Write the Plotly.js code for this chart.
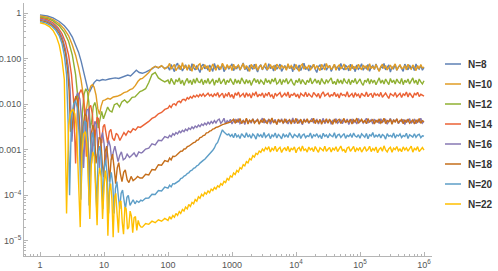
<!DOCTYPE html>
<html><head><meta charset="utf-8">
<script src="https://cdn.plot.ly/plotly-3.0.1.min.js"></script>
<style>html,body{margin:0;padding:0;background:#fff}#chart{width:498px;height:271px}</style>
</head><body><div id="chart"></div>
<script>
// Legend names and colours
var names = ["N=8","N=10","N=12","N=14","N=16","N=18","N=20","N=22"];
var colors = ["#5E81B5","#E19C24","#8FB032","#EB6235","#8778B3","#C56E1A","#5D9EC7","#FFBF00"];

// Shared late-time grid (x values)
var lateX = [39.8,44.7,50.1,56.2,63.1,70.8,79.4,89.1,
100,106,112,119,126,133,141,150,158,168,178,188,200,211,224,237,251,266,282,299,316,335,355,376,398,422,447,473,501,531,562,596,631,668,708,750,794,841,891,944,
1000,1059,1122,1189,1259,1334,1413,1496,1585,1679,1778,1884,1995,2113,2239,2371,2512,2661,2818,2985,3162,3350,3548,3758,3981,4217,4467,4732,5012,5309,5623,5957,6310,6683,7079,7499,7943,8414,8913,9441,
10000,10593,11220,11885,12589,13335,14125,14962,15849,16788,17783,18836,19953,21135,22387,23714,25119,26607,28184,29854,31623,33497,35481,37584,39811,42170,44668,47315,50119,53088,56234,59566,63096,66834,70795,74989,79433,84140,89125,94406,
100000,105925,112202,118850,125893,133352,141254,149624,158489,167880,177828,188365,199526,211349,223872,237137,251189,266073,281838,298538,316228,334965,354813,375837,398107,421697,446684,473151,501187,530884,562341,595662,630957,668344,707946,749894,794328,841395,891251,944061,
1000000];

// N=8
var x8 = [1,1.3,1.6,2,2.4,2.8,3.2,3.6,4,4.4,4.8,5.2,5.6,6,6.5,7,7.7,8.5,9.5,10.5,12,13.5,15,17,19,21,23.5,26,29,32,35.5];
var y8 = [0.92,0.87,0.79,0.66,0.53,0.41,0.3,0.21,0.14,0.088,0.052,0.03,0.021,0.019,0.024,0.03,0.034,0.033,0.035,0.034,0.036,0.037,0.038,0.037,0.039,0.041,0.044,0.042,0.05,0.056,0.05];
var late8 = [0.048,0.051,0.055,0.06,0.068,0.063,0.07,0.061,
0.066,0.056,0.075,0.061,0.052,0.072,0.08,0.059,0.069,0.054,
0.063,0.074,0.058,0.067,0.055,0.078,0.064,0.057,0.071,0.061,
0.05,0.069,0.076,0.06,0.067,0.056,0.073,0.063,0.053,0.079,
0.061,0.07,0.057,0.065,0.075,0.052,0.063,0.072,0.059,0.068,
0.077,0.055,0.066,0.061,0.073,0.056,0.069,0.081,0.058,0.064,
0.053,0.072,0.065,0.059,0.076,0.061,0.051,0.067,0.074,0.057,
0.07,0.063,0.056,0.078,0.061,0.068,0.054,0.073,0.059,0.066,
0.076,0.053,0.063,0.071,0.058,0.074,0.061,0.068,0.052,0.077,
0.064,0.059,0.073,0.055,0.067,0.08,0.058,0.065,0.054,0.071,
0.062,0.076,0.059,0.05,0.067,0.073,0.057,0.064,0.078,0.056,
0.065,0.071,0.053,0.062,0.075,0.059,0.068,0.055,0.079,0.063,
0.057,0.071,0.066,0.054,0.076,0.061,0.068,0.052,0.073,0.059,
0.064,0.078,0.056,0.067,0.061,0.075,0.053,0.065,0.071,0.058,
0.077,0.061,0.054,0.067,0.063,0.079,0.057,0.065,0.073,0.051,
0.067,0.061,0.075,0.056,0.066,0.071,0.059,0.053,0.076,0.063,
0.057,0.073,0.061,0.068,0.055,0.077,0.063,0.059,0.071,0.056,
0.065];

// N=10
var x10 = [1,1.3,1.6,2,2.4,2.8,3.2,3.6,4,4.4,4.8,5.1,5.4,5.8,6.2,6.6,7.0,7.5,8.0,8.5,9,9.6,10.4,11.5,12.5,14,16,18,20.5,23,25.5,28,31,34,37];
var y10 = [0.87,0.82,0.73,0.59,0.45,0.32,0.2,0.12,0.065,0.033,0.014,0.006,0.009,0.018,0.025,0.027,0.024,0.016,0.008,0.006,0.009,0.012,0.0125,0.0135,0.013,0.0145,0.015,0.016,0.018,0.019,0.021,0.022,0.026,0.032,0.036];
var late10 = [0.037,0.043,0.05,0.062,0.068,0.064,0.071,0.06,
0.068,0.079,0.059,0.067,0.075,0.055,0.065,0.073,0.057,0.082,
0.061,0.071,0.056,0.074,0.063,0.053,0.076,0.067,0.058,0.073,
0.078,0.057,0.065,0.074,0.061,0.071,0.052,0.067,0.077,0.063,
0.056,0.073,0.065,0.059,0.08,0.067,0.057,0.075,0.062,0.071,
0.055,0.076,0.061,0.067,0.073,0.057,0.065,0.079,0.059,0.071,
0.063,0.053,0.075,0.067,0.06,0.077,0.056,0.065,0.073,0.058,
0.067,0.081,0.057,0.063,0.075,0.061,0.071,0.055,0.076,0.065,
0.059,0.073,0.063,0.067,0.056,0.078,0.061,0.071,0.065,0.057,
0.075,0.063,0.053,0.071,0.077,0.059,0.067,0.061,0.073,0.056,
0.065,0.076,0.059,0.071,0.063,0.055,0.075,0.067,0.057,0.079,
0.063,0.071,0.058,0.065,0.076,0.056,0.067,0.073,0.061,0.065,
0.077,0.057,0.063,0.071,0.055,0.075,0.061,0.067,0.059,0.076,
0.065,0.057,0.073,0.063,0.071,0.056,0.078,0.061,0.067,0.059,
0.075,0.063,0.053,0.067,0.076,0.061,0.071,0.057,0.065,0.073,
0.059,0.067,0.077,0.056,0.065,0.075,0.061,0.063,0.071,0.057,
0.076,0.063,0.059,0.073,0.065,0.055,0.071,0.061,0.075,0.063,
0.066];

// N=12
var x12 = [1,1.3,1.6,2,2.4,2.8,3.2,3.6,3.9,4.15,4.35,4.6,4.9,5.2,5.5,5.8,6.1,6.4,6.8,7.2,7.6,8.1,8.6,9.2,9.8,10.5,11.4,12.3,13.3,14.5,16,17.5,19,21,23,25,27.5,30.5,33.5,36.5];
var y12 = [0.82,0.77,0.68,0.53,0.38,0.24,0.12,0.045,0.014,0.003,0.0008,0.007,0.017,0.022,0.019,0.011,0.003,0.004,0.009,0.011,0.008,0.003,0.0045,0.007,0.0048,0.0062,0.0087,0.0072,0.0068,0.0098,0.0105,0.0088,0.0112,0.0125,0.0108,0.012,0.0142,0.0145,0.017,0.019];
var late12 = [0.02,0.022,0.03,0.045,0.05,0.038,0.034,0.031,
0.034,0.028,0.037,0.03,0.027,0.035,0.031,0.038,0.028,0.034,
0.026,0.032,0.037,0.029,0.034,0.027,0.036,0.029,0.038,0.031,
0.03,0.036,0.027,0.034,0.029,0.037,0.028,0.032,0.036,0.026,
0.034,0.03,0.038,0.028,0.032,0.036,0.027,0.034,0.03,0.037,
0.031,0.027,0.036,0.029,0.034,0.028,0.038,0.031,0.028,0.035,
0.029,0.034,0.026,0.032,0.037,0.03,0.035,0.028,0.034,0.031,
0.027,0.037,0.03,0.034,0.028,0.036,0.031,0.038,0.028,0.03,
0.036,0.027,0.034,0.031,0.037,0.028,0.032,0.036,0.029,0.026,
0.034,0.03,0.037,0.028,0.035,0.031,0.027,0.034,0.03,0.038,
0.028,0.032,0.036,0.029,0.034,0.027,0.037,0.031,0.028,0.035,
0.03,0.034,0.038,0.028,0.032,0.027,0.036,0.029,0.034,0.028,
0.037,0.031,0.029,0.036,0.027,0.034,0.03,0.037,0.028,0.032,
0.036,0.029,0.026,0.034,0.031,0.037,0.028,0.035,0.03,0.034,
0.027,0.032,0.038,0.029,0.034,0.028,0.036,0.031,0.027,0.037,
0.03,0.034,0.028,0.036,0.031,0.029,0.037,0.027,0.034,0.03,
0.036,0.028,0.032,0.038,0.029,0.034,0.027,0.036,0.031,0.028,
0.033];

// N=14
var x14 = [1,1.3,1.6,1.9,2.2,2.5,2.8,3.1,3.35,3.6,3.85,4.1,4.4,4.7,5.0,5.3,5.6,5.9,6.2,6.6,7.0,7.4,7.8,8.2,8.7,9.2,9.7,10.2,10.8,11.4,12.1,12.8,13.6,14.5,15.5,16.5,17.7,19,20.5,22,24,26,28.5,31,34,37];
var y14 = [0.78,0.72,0.62,0.49,0.36,0.23,0.12,0.045,0.012,0.0005,0.008,0.017,0.021,0.016,0.006,0.0007,0.004,0.0085,0.0095,0.006,0.0012,0.003,0.0052,0.0048,0.0018,0.0014,0.0032,0.0036,0.0022,0.0014,0.0025,0.0028,0.0018,0.0016,0.0023,0.0021,0.0016,0.0019,0.0024,0.0021,0.0026,0.0024,0.0029,0.0027,0.0032,0.0031];
var late14 = [0.0033,0.0037,0.0042,0.0049,0.0053,0.0062,0.0066,0.0077,
0.0082,0.0093,0.0085,0.01,0.0103,0.0095,0.0112,0.0117,0.0109,0.0127,
0.0129,0.012,0.014,0.0131,0.0148,0.0136,0.0155,0.0144,0.0159,0.0146,
0.0166,0.0152,0.0171,0.0149,0.0162,0.0175,0.0153,0.0166,0.0145,0.0169,
0.0156,0.0181,0.0146,0.0163,0.0176,0.0138,0.0167,0.0152,0.0183,0.0143,
0.0165,0.0134,0.0177,0.0157,0.0186,0.0147,0.0162,0.0172,0.0141,0.0179,
0.0153,0.0168,0.0137,0.0174,0.0159,0.0189,0.0145,0.0164,0.0155,0.0178,
0.014,0.0171,0.0156,0.0184,0.0148,0.0162,0.0133,0.0176,0.0154,0.0167,
0.0182,0.0143,0.0159,0.0174,0.015,0.0187,0.0139,0.0165,0.0157,0.0178,
0.0146,0.0168,0.0135,0.0175,0.0161,0.0151,0.0185,0.0147,0.0171,0.0156,
0.0142,0.0181,0.0164,0.0149,0.0174,0.0136,0.0167,0.0188,0.0152,0.016,
0.0176,0.0144,0.0163,0.0155,0.0183,0.0148,0.017,0.0138,0.0178,0.0157,
0.0164,0.015,0.0189,0.0145,0.0162,0.0173,0.0141,0.018,0.0154,0.0167,
0.0137,0.0175,0.0159,0.0151,0.0186,0.0147,0.0165,0.0171,0.014,0.0179,
0.0156,0.0168,0.0149,0.0183,0.0143,0.0162,0.0176,0.0153,0.0134,0.0172,
0.0165,0.0152,0.0181,0.0146,0.016,0.0174,0.0141,0.0169,0.0157,0.0187,
0.0144,0.0177,0.0158,0.0139,0.0173,0.0161,0.0184,0.0148,0.0166,0.0155,
0.0151];

// N=16
var x16 = [1,1.25,1.5,1.75,2,2.25,2.5,2.75,2.95,3.15,3.35,3.6,3.9,4.2,4.5,4.8,5.1,5.4,5.7,6.0,6.4,6.8,7.2,7.6,8.0,8.5,9.0,9.5,10,10.6,11.2,11.8,12.5,13.2,14,14.8,15.7,16.6,17.6,18.7,20,21.5,23,25,27,29.5,32,35,38];
var y16 = [0.74,0.69,0.61,0.51,0.4,0.28,0.16,0.07,0.022,0.0015,0.006,0.014,0.018,0.013,0.004,0.0004,0.003,0.0075,0.0078,0.004,0.0005,0.0022,0.0042,0.0036,0.0011,0.0004,0.0018,0.0024,0.0014,0.0005,0.0011,0.0016,0.0012,0.0006,0.0009,0.0012,0.0008,0.00055,0.00075,0.0009,0.0006,0.00065,0.0008,0.00068,0.00075,0.00085,0.0007,0.0009,0.00085];
var late16 = [0.00088,0.00104,0.00109,0.00135,0.00128,0.00162,0.00158,0.00196,
0.00182,0.00208,0.00193,0.00226,0.0021,0.0024,0.00223,0.00256,0.00237,0.00268,
0.0025,0.00284,0.00263,0.003,0.0028,0.00318,0.00293,0.00334,0.0031,0.00349,
0.00324,0.00368,0.00342,0.00386,0.00355,0.00403,0.00368,0.0042,0.00383,0.00438,
0.0039,0.00448,0.00475,0.00382,0.0042,0.00492,0.00371,0.00438,0.00405,0.00468,
0.00368,0.00431,0.00459,0.00395,0.00485,0.00376,0.00421,0.00446,0.00359,0.00472,
0.00412,0.00441,0.00383,0.0048,0.00401,0.00433,0.00462,0.00374,0.00428,0.00495,
0.00387,0.00445,0.00409,0.00474,0.00366,0.00436,0.00418,0.00466,0.00362,0.00452,
0.00403,0.00482,0.00385,0.00429,0.00458,0.00371,0.00442,0.00407,0.00498,0.00379,
0.00425,0.00463,0.00393,0.00437,0.00356,0.00477,0.00415,0.00449,0.00381,0.00432,
0.00487,0.00398,0.00421,0.00461,0.00368,0.00444,0.00406,0.00491,0.00377,0.00434,
0.00412,0.00471,0.00364,0.00439,0.00419,0.00483,0.00386,0.00426,0.00455,0.00373,
0.00446,0.00408,0.00476,0.00361,0.00432,0.00465,0.00396,0.00438,0.00369,0.00486,
0.00417,0.00452,0.00384,0.00427,0.00494,0.00391,0.0042,0.00457,0.00367,0.00473,
0.00405,0.00443,0.00378,0.00481,0.00401,0.00435,0.00462,0.00364,0.00424,0.00489,
0.00388,0.0045,0.00411,0.00476,0.00375,0.00439,0.00419,0.00467,0.00358,0.00456,
0.00404,0.00484,0.00381,0.00431,0.00463,0.00372,0.00447,0.00409,0.00493,0.00385,
0.00421];

// N=18
var x18 = [1,1.25,1.5,1.75,2,2.25,2.5,2.7,2.85,3.0,3.2,3.4,3.65,3.9,4.15,4.4,4.7,5.0,5.3,5.6,5.9,6.3,6.7,7.1,7.5,7.9,8.4,8.9,9.4,9.9,10.4,11,11.6,12.2,12.9,13.6,14.4,15.2,16.1,17,18,19.1,20.3,21.5,23,24.5,26.5,28.5,31,33.5,36.5];
var y18 = [0.70,0.65,0.57,0.47,0.36,0.24,0.13,0.055,0.02,0.0025,0.003,0.011,0.015,0.011,0.004,0.0003,0.003,0.0062,0.0055,0.0018,0.0002,0.0022,0.0035,0.0026,0.0005,0.0008,0.0019,0.0017,0.0005,0.00025,0.0009,0.0012,0.0006,0.0002,0.0006,0.0008,0.0004,0.00018,0.0004,0.00052,0.0003,0.0002,0.00032,0.00036,0.00022,0.00019,0.00026,0.00021,0.00023,0.00026,0.00024];
var late18 = [0.00024,0.00029,0.00028,0.00037,0.00036,0.00047,0.00046,0.00058,
0.00055,0.00066,0.0006,0.00072,0.00071,0.00074,0.00081,0.00085,0.00093,0.00094,
0.00104,0.00105,0.00117,0.0012,0.00129,0.00132,0.00144,0.00148,0.00162,0.00165,
0.00185,0.00189,0.00206,0.0021,0.00235,0.00238,0.00257,0.00263,0.00285,0.00292,
0.00311,0.00316,0.00333,0.00343,0.00358,0.00366,0.00379,0.00384,0.00398,0.00404,
0.00435,0.00468,0.00381,0.0045,0.00412,0.00487,0.00377,0.00433,0.00401,0.00495,
0.00369,0.00446,0.0041,0.00476,0.00386,0.00429,0.00463,0.00366,0.00452,0.00398,
0.00484,0.00407,0.00379,0.00458,0.00422,0.00499,0.00389,0.00437,0.00361,0.00471,
0.00414,0.00449,0.00383,0.00482,0.00397,0.00431,0.00461,0.00368,0.00444,0.00406,
0.0049,0.00378,0.00425,0.00469,0.00373,0.00455,0.00402,0.00479,0.00391,0.00436,
0.00417,0.00492,0.00376,0.00448,0.00399,0.00466,0.00365,0.00434,0.00411,0.00481,
0.00384,0.00459,0.00419,0.00362,0.00474,0.00396,0.00441,0.00465,0.00379,0.00427,
0.00488,0.00393,0.00438,0.00404,0.00472,0.00367,0.00453,0.00413,0.00497,0.00382,
0.00428,0.00467,0.00395,0.00446,0.00374,0.00485,0.00408,0.00432,0.00462,0.00371,
0.00451,0.00401,0.00478,0.00387,0.00424,0.00493,0.00376,0.00439,0.00415,0.00469,
0.00363,0.00457,0.00405,0.00483,0.00389,0.00431,0.00464,0.00372,0.00445,0.00409,
0.00476,0.00384,0.00426,0.00458,0.00368,0.00447,0.00403,0.00489,0.0038,0.00436,
0.00418];

// N=20
var x20 = [1,1.25,1.5,1.75,2,2.2,2.4,2.6,2.75,2.9,3.1,3.35,3.6,3.85,4.1,4.35,4.65,4.95,5.25,5.55,5.85,6.2,6.55,6.9,7.3,7.7,8.1,8.6,9.1,9.6,10.1,10.6,11.2,11.8,12.4,13,13.7,14.4,15.1,15.9,16.7,17.6,18.5,19.5,20.5,21.6,22.8,24,25.5,27,28.5,30.5,32.5,35,37.5];
var y20 = [0.66,0.61,0.53,0.43,0.32,0.22,0.12,0.045,0.004,0.0001,0.005,0.01,0.012,0.008,0.002,0.00008,0.0018,0.0042,0.004,0.0015,0.00006,0.0012,0.0024,0.0018,0.0003,0.00005,0.0009,0.0012,0.0006,0.00005,0.0004,0.0006,0.0003,0.00004,0.00022,0.00032,0.00018,0.00004,0.00014,0.0002,0.0001,0.00005,0.00011,0.00013,0.00008,0.00005,0.00009,0.0001,0.00006,0.00007,0.00008,0.000065,0.000075,0.00007,0.000078];
var late20 = [7.5e-5,8.6e-5,8.7e-5,1.05e-4,1.04e-4,1.27e-4,1.24e-4,1.52e-4,
1.44e-4,1.66e-4,1.53e-4,1.8e-4,1.78e-4,1.86e-4,2.02e-4,2.1e-4,2.34e-4,2.4e-4,
2.64e-4,2.72e-4,3.02e-4,3.12e-4,3.44e-4,3.55e-4,3.92e-4,4.05e-4,4.46e-4,4.62e-4,
5.1e-4,5.35e-4,5.85e-4,6.2e-4,6.8e-4,7.25e-4,8.1e-4,8.6e-4,9.8e-4,1.1e-3,
1.32e-3,1.45e-3,1.78e-3,2.1e-3,2.75e-3,2.45e-3,2.3e-3,2.12e-3,2.22e-3,1.98e-3,
2.16e-3,1.84e-3,2.3e-3,1.92e-3,2.1e-3,1.77e-3,2.26e-3,2.02e-3,1.86e-3,2.36e-3,
1.9e-3,2.13e-3,1.79e-3,2.21e-3,2.04e-3,1.72e-3,2.28e-3,1.97e-3,2.15e-3,1.85e-3,
2.4e-3,1.88e-3,2.07e-3,2.23e-3,1.76e-3,2.11e-3,1.95e-3,2.33e-3,1.82e-3,2.18e-3,
2.0e-3,1.74e-3,2.27e-3,1.93e-3,2.12e-3,1.87e-3,2.38e-3,2.03e-3,1.81e-3,2.17e-3,
2.06e-3,1.9e-3,2.29e-3,1.77e-3,2.1e-3,2.21e-3,1.85e-3,2.04e-3,1.95e-3,2.35e-3,
1.79e-3,2.14e-3,2.0e-3,2.25e-3,1.89e-3,2.08e-3,1.75e-3,2.31e-3,1.98e-3,2.12e-3,
1.83e-3,2.23e-3,2.04e-3,1.93e-3,2.37e-3,1.8e-3,2.1e-3,2.19e-3,1.87e-3,2.02e-3,
2.27e-3,1.78e-3,2.08e-3,1.96e-3,2.2e-3,1.86e-3,2.33e-3,2.0e-3,1.91e-3,2.15e-3,
1.79e-3,2.25e-3,2.06e-3,1.89e-3,2.29e-3,1.75e-3,2.13e-3,2.02e-3,2.39e-3,1.87e-3,
2.1e-3,1.94e-3,2.21e-3,1.83e-3,2.17e-3,2.04e-3,1.72e-3,2.27e-3,1.98e-3,2.08e-3,
1.92e-3,2.34e-3,1.81e-3,2.12e-3,2.0e-3,2.23e-3,1.85e-3,2.06e-3,1.96e-3,2.31e-3,
1.77e-3,2.14e-3,2.02e-3,1.9e-3,2.25e-3,1.88e-3,2.1e-3,2.19e-3,1.84e-3,2.04e-3,
2.0e-3];

// N=22
var x22 = [1,1.2,1.4,1.6,1.8,2.0,2.2,2.4,2.6,2.8,3.0,3.25,3.5,3.75,4.0,4.25,4.5,4.8,5.1,5.4,5.7,6.0,6.35,6.7,7.05,7.4,7.8,8.2,8.6,9.0,9.5,10,10.5,11,11.5,12.1,12.7,13.3,13.9,14.6,15.3,16,16.8,17.6,18.4,19.3,20.2,21.2,22.2,23.3,24.4,25.6,26.8,28.1,29.5,31,32.5,34.2,36,38];
var y22 = [0.62,0.58,0.51,0.42,0.31,0.2,0.1,0.035,0.00004,0.0035,0.0065,0.0078,0.0062,0.0025,0.0002,0.00002,0.0008,0.0022,0.0025,0.0014,0.0002,0.00003,0.0005,0.0009,0.0007,0.00015,0.000022,0.00025,0.0004,0.00025,0.00003,0.00015,0.00035,0.0002,0.000013,0.00012,0.00018,0.00008,0.000012,0.00009,0.00011,0.00004,0.000015,0.00007,0.000075,0.000025,0.000014,0.000055,0.00005,0.000018,0.00002,0.000045,0.000035,0.000015,0.000032,0.000034,0.000017,0.000028,0.000022,0.00002];
var late22 = [2.0e-5,2.4e-5,2.3e-5,2.7e-5,2.5e-5,2.9e-5,2.7e-5,3.1e-5,
2.8e-5,3.4e-5,3.0e-5,3.6e-5,3.3e-5,4.0e-5,3.6e-5,4.4e-5,4.0e-5,4.9e-5,
4.5e-5,5.5e-5,5.0e-5,6.3e-5,5.7e-5,7.0e-5,6.5e-5,8.1e-5,7.4e-5,9.3e-5,
8.6e-5,1.05e-4,9.6e-5,1.15e-4,1.06e-4,1.25e-4,1.14e-4,1.37e-4,1.27e-4,1.49e-4,
1.37e-4,1.62e-4,1.51e-4,1.8e-4,1.68e-4,2.03e-4,1.9e-4,2.34e-4,2.17e-4,2.68e-4,
2.5e-4,3.08e-4,2.85e-4,3.52e-4,3.26e-4,4.06e-4,3.8e-4,4.7e-4,4.42e-4,5.5e-4,
5.15e-4,6.4e-4,6.0e-4,7.4e-4,6.9e-4,8.4e-4,7.9e-4,9.4e-4,8.8e-4,1.04e-3,
9.4e-4,1.12e-3,1.01e-3,1.17e-3,8.9e-4,1.08e-3,9.8e-4,1.2e-3,9.1e-4,1.05e-3,
1.14e-3,8.7e-4,1.03e-3,1.1e-3,9.5e-4,1.19e-3,9.0e-4,1.07e-3,1.0e-3,1.16e-3,
8.6e-4,1.05e-3,1.13e-3,9.3e-4,1.22e-3,9.7e-4,1.04e-3,8.9e-4,1.15e-3,1.0e-3,
1.08e-3,9.1e-4,1.18e-3,1.01e-3,8.8e-4,1.11e-3,1.05e-3,9.5e-4,1.2e-3,9.3e-4,
1.03e-3,1.13e-3,8.9e-4,1.08e-3,9.9e-4,1.17e-3,9.1e-4,1.05e-3,1.21e-3,9.6e-4,
1.01e-3,8.7e-4,1.1e-3,1.15e-3,9.3e-4,1.04e-3,1.19e-3,9.0e-4,1.08e-3,9.8e-4,
1.13e-3,8.9e-4,1.05e-3,1.17e-3,9.5e-4,1.01e-3,1.2e-3,9.1e-4,1.07e-3,9.7e-4,
1.15e-3,8.6e-4,1.03e-3,1.11e-3,9.3e-4,1.22e-3,9.9e-4,9.0e-4,1.06e-3,1.14e-3,
8.8e-4,1.08e-3,1.01e-3,1.18e-3,9.5e-4,1.04e-3,9.1e-4,1.16e-3,9.9e-4,1.1e-3,
9.3e-4,1.05e-3,1.2e-3,8.9e-4,1.07e-3,1.0e-3,1.17e-3,9.1e-4,1.03e-3,1.12e-3,
9.8e-4];

// Tick labels
var xTickVals = [1,10,100,1000,1e4,1e5,1e6];
var xTickText = ["1","10","100","1000","10<sup>4</sup>","10<sup>5</sup>","10<sup>6</sup>"];
var yTickVals = [1,0.1,0.01,0.001,1e-4,1e-5];
var yTickText = ["1","0.100","0.010","0.001","10<sup>−4</sup>","10<sup>−5</sup>"];

var earlyX = [x8,x10,x12,x14,x16,x18,x20,x22];
var earlyY = [y8,y10,y12,y14,y16,y18,y20,y22];
var lateY = [late8,late10,late12,late14,late16,late18,late20,late22];

var traces = [];
for (var s = 0; s < names.length; s++) {
  var xs = earlyX[s].slice(), ys = earlyY[s].slice();
  var last = xs[xs.length-1];
  var n = Math.min(lateX.length, lateY[s].length);
  for (var i = 0; i < n; i++) {
    if (lateX[i] > last) { xs.push(lateX[i]); ys.push(lateY[s][i]); }
  }
  traces.push({x: xs, y: ys, type: 'scatter', mode: 'lines', name: names[s],
    line: {color: colors[s], width: 1.4}, showlegend: false, hoverinfo: 'skip'});
}

// minor tick positions (axis decoration)
var minorX = [], minorY = [];
for (var d = -1; d <= 6; d++) for (var m = 2; m <= 9; m++) minorX.push(m*Math.pow(10,d));
for (var d2 = -6; d2 <= 0; d2++) for (var m2 = 2; m2 <= 9; m2++) minorY.push(m2*Math.pow(10,d2));

// custom legend (shapes + text)
var shapes = [], annotations = [];
for (var k = 0; k < names.length; k++) {
  var yy = 64 + 20*k;
  shapes.push({type:'line', xref:'paper', yref:'paper',
    x0:(445-24)/408, x1:(461-24)/408, y0:(256-yy)/253, y1:(256-yy)/253,
    line:{color:colors[k], width:1.5}});
  annotations.push({xref:'paper', yref:'paper', x:(466-24)/408, y:(256-yy)/253,
    xanchor:'left', yanchor:'middle', showarrow:false, text:names[k],
    font:{family:'Liberation Sans, Arial, sans-serif', size:10, color:'#333', weight:'bold'}});
}

var axisCommon = {type:'log', showline:true, linecolor:'#b5b5b5', linewidth:1,
  ticks:'inside', ticklen:4, tickcolor:'#b5b5b5', tickwidth:1, showgrid:false, zeroline:false,
  tickfont:{family:'Liberation Sans, Arial, sans-serif', size:9, color:'#555'}};

var layout = {
  width:498, height:271, margin:{l:24, r:66, t:3, b:15},
  paper_bgcolor:'#fff', plot_bgcolor:'#fff', showlegend:false,
  xaxis: Object.assign({}, axisCommon, {range:[-0.25, 6.125], tickmode:'array',
    tickvals:xTickVals, ticktext:xTickText,
    minor:{tickmode:'array', tickvals:minorX, ticks:'inside', ticklen:2, tickcolor:'#b5b5b5'}}),
  yaxis: Object.assign({}, axisCommon, {range:[-5.334, 0.226], tickmode:'array',
    tickvals:yTickVals, ticktext:yTickText,
    minor:{tickmode:'array', tickvals:minorY, ticks:'inside', ticklen:2, tickcolor:'#b5b5b5'}}),
  shapes: shapes, annotations: annotations
};

Plotly.newPlot('chart', traces, layout, {staticPlot:true, displayModeBar:false});
</script></body></html>
